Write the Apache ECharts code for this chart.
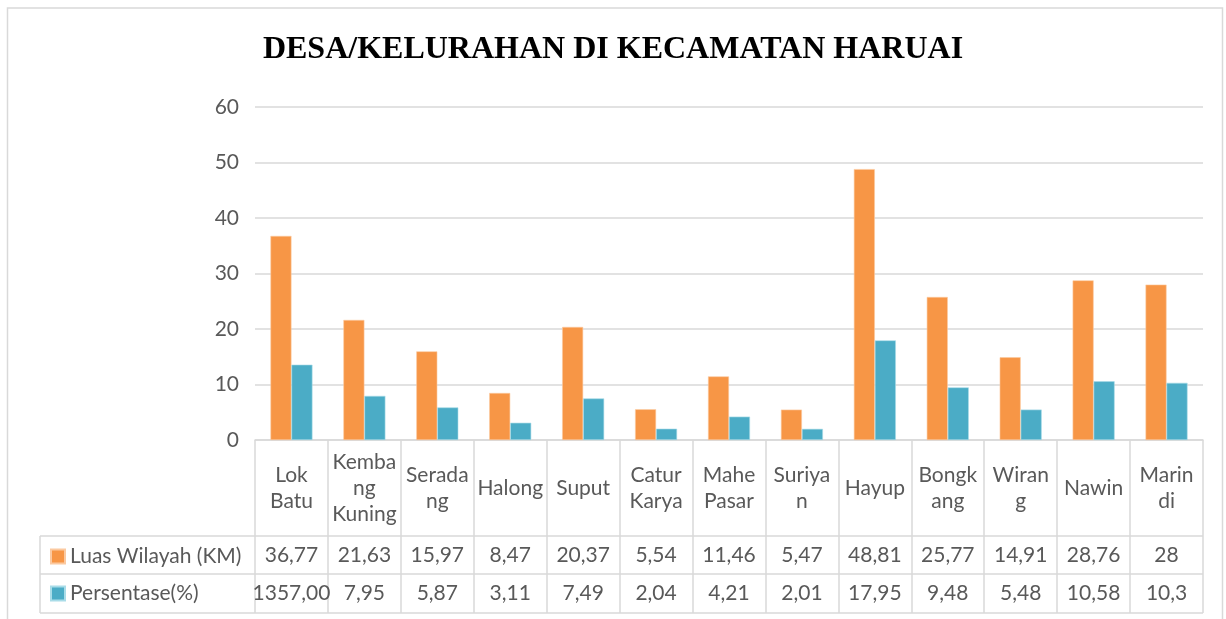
<!DOCTYPE html>
<html>
<head>
<meta charset="utf-8">
<script src="https://cdn.jsdelivr.net/npm/echarts@6/dist/echarts.min.js"></script>
<style>
html,body{margin:0;padding:0;background:#fff;}
#chart{width:1226px;height:619px;}
</style>
</head>
<body>
<div id="chart"></div>
<script>
// ---- data ----
var categories = ["Lok Batu","Kembang Kuning","Seradang","Halong","Suput","Catur Karya","Mahe Pasar","Suriyan","Hayup","Bongkang","Wirang","Nawin","Marindi"];
var categoryLabels = ["Lok\nBatu","Kemba\nng\nKuning","Serada\nng","Halong","Suput","Catur\nKarya","Mahe\nPasar","Suriya\nn","Hayup","Bongk\nang","Wiran\ng","Nawin","Marin\ndi"];
var seriesNames = ["Luas Wilayah (KM)","Persentase(%)"];
var luasWilayah = [36.77,21.63,15.97,8.47,20.37,5.54,11.46,5.47,48.81,25.77,14.91,28.76,28];
var persentase = [13.57,7.95,5.87,3.11,7.49,2.04,4.21,2.01,17.95,9.48,5.48,10.58,10.3];
var luasTableText = ["36,77","21,63","15,97","8,47","20,37","5,54","11,46","5,47","48,81","25,77","14,91","28,76","28"];
var persenTableText = ["1357,00","7,95","5,87","3,11","7,49","2,04","4,21","2,01","17,95","9,48","5,48","10,58","10,3"];
var yTicks = [0,10,20,30,40,50,60];

var ORANGE = '#F79646', BLUE = '#4BACC6', GRIDC = '#D9D9D9', TXT = '#595959';
var FONT = 'Lato';

var chart = echarts.init(document.getElementById('chart'), null, {renderer:'canvas'});

var gridLeft = 255, gridRight = 23, gridTop = 107, gridBottom = 179;
var axisY = 619 - gridBottom;          // 440
var row1 = axisY + 96, row2 = row1 + 38, row3 = row2 + 39;  // 536, 574, 613
var tableLeft = 40, tableRight = 1226 - gridRight;

function labelAxis(idx, texts, offset) {
  return {
    type:'category', data:categories, position:'bottom', gridIndex:0, offset:offset,
    axisLine:{show:false}, axisTick:{show:false}, splitLine:{show:false},
    axisLabel:{interval:0, margin:19, verticalAlign:'middle', color:TXT, fontFamily:FONT, fontSize:21,
      formatter:function(v, i){ return texts[i]; }}
  };
}

var option = {
  animation:false,
  backgroundColor:'#fff',
  textStyle:{fontFamily:FONT},
  title:{
    text:'DESA/KELURAHAN DI KECAMATAN HARUAI',
    left:'center', top:29,
    textStyle:{fontFamily:'Liberation Serif', fontWeight:'bold', fontSize:32, color:'#000'}
  },
  legend:{
    orient:'vertical', left:45, top:row1 + 5,
    itemWidth:14, itemHeight:14, itemGap:16, icon:'rect', selectedMode:false,
    data:seriesNames,
    textStyle:{color:TXT, fontFamily:FONT, fontSize:21, lineHeight:21}
  },
  grid:{left:gridLeft, right:gridRight, top:gridTop, bottom:gridBottom, containLabel:false},
  xAxis:[
    {
      type:'category', data:categories, position:'bottom',
      axisLine:{show:true, lineStyle:{color:GRIDC, width:1.5}},
      axisTick:{show:true, length:row3 - axisY, interval:0, lineStyle:{color:GRIDC, width:1.5}},
      axisLabel:{interval:0, margin:48, verticalAlign:'middle', lineHeight:26, color:TXT, fontFamily:FONT, fontSize:21,
        formatter:function(v, i){ return categoryLabels[i]; }}
    },
    labelAxis(1, luasTableText, 96),
    labelAxis(2, persenTableText, 134)
  ],
  yAxis:{
    type:'value', min:0, max:60, interval:10,
    axisLine:{show:false}, axisTick:{show:false},
    splitLine:{lineStyle:{color:GRIDC, width:1.5}},
    axisLabel:{margin:16, color:TXT, fontFamily:FONT, fontSize:21,
      formatter:function(v){ return yTicks.indexOf(v) >= 0 ? String(v) : ''; }}
  },
  series:[
    {name:seriesNames[0], type:'bar', data:luasWilayah, barWidth:21, barGap:'0%',
      itemStyle:{color:ORANGE, borderColor:'#FBC9A0', borderWidth:0.6}},
    {name:seriesNames[1], type:'bar', data:persentase, barWidth:21, barGap:'0%',
      itemStyle:{color:BLUE, borderColor:'#A9DCE8', borderWidth:0.6}}
  ],
  graphic:[
    // outer chart frame
    {type:'rect', shape:{x:7.5, y:8, width:1215, height:640}, style:{fill:'none', stroke:GRIDC, lineWidth:1.5}, silent:true},
    // data table horizontal lines
    {type:'line', shape:{x1:tableLeft, y1:row1, x2:tableRight, y2:row1}, style:{stroke:GRIDC, lineWidth:1.5}, silent:true},
    {type:'line', shape:{x1:tableLeft, y1:row2, x2:tableRight, y2:row2}, style:{stroke:GRIDC, lineWidth:1.5}, silent:true},
    {type:'line', shape:{x1:tableLeft, y1:row3, x2:tableRight, y2:row3}, style:{stroke:GRIDC, lineWidth:1.5}, silent:true},
    {type:'line', shape:{x1:tableLeft, y1:row1, x2:tableLeft, y2:row3}, style:{stroke:GRIDC, lineWidth:1.5}, silent:true}
  ]
};
chart.setOption(option);
</script>
</body>
</html>
